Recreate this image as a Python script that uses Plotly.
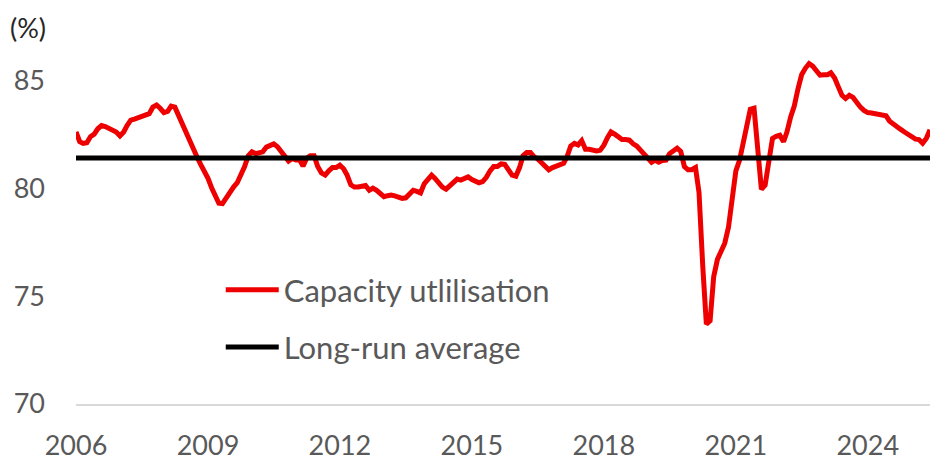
import pandas as pd
import plotly.graph_objects as go

start_month = "2006-01-01"
capacity_utilisation = [
    82.6, 82.15, 82.07, 82.1, 82.38, 82.5, 82.75, 82.9, 82.85, 82.76, 82.65, 82.6,
    82.42, 82.6, 82.9, 83.15, 83.2, 83.25, 83.3, 83.35, 83.45, 83.75, 83.85, 83.7,
    83.5, 83.55, 83.8, 83.75, 83.35, 83.05, 82.55, 82.2, 81.8, 81.45, 81.1, 80.8,
    80.45, 80.0, 79.6, 79.3, 79.28, 79.55, 79.85, 80.05, 80.25, 80.6, 81.0, 81.5,
    81.68, 81.6, 81.62, 81.68, 81.9, 82.0, 82.05, 81.92, 81.7, 81.4, 81.25, 81.37,
    81.3, 81.3, 81.02, 81.4, 81.5, 81.5, 81.0, 80.7, 80.6, 80.8, 80.95, 80.95,
    81.06, 80.9, 80.6, 80.15, 80.05, 80.05, 80.1, 80.12, 79.9, 80.0, 79.9, 79.75,
    79.6, 79.65, 79.68, 79.64, 79.6, 79.52, 79.55, 79.75, 79.9, 79.85, 79.78, 80.2,
    80.45, 80.6, 80.45, 80.2, 80.05, 79.95, 80.1, 80.3, 80.42, 80.37, 80.45, 80.52,
    80.4, 80.34, 80.25, 80.3, 80.5, 80.8, 81.0, 81.0, 81.12, 81.1, 80.8, 80.6,
    80.55, 80.95, 81.5, 81.65, 81.65, 81.45, 81.35, 81.2, 81.0, 80.85, 80.95, 81.0,
    81.1, 81.15, 81.45, 81.95, 82.07, 82.0, 82.2, 81.8, 81.8, 81.76, 81.72, 81.75,
    81.99, 82.35, 82.6, 82.5, 82.4, 82.25, 82.25, 82.22, 82.05, 81.95, 81.76, 81.6,
    81.4, 81.2, 81.3, 81.2, 81.28, 81.3, 81.6, 81.75, 81.85, 81.7, 81.0, 80.85,
    80.85, 80.95, 79.8, 76.4, 73.7, 73.85, 75.9, 76.7, 77.1, 77.45, 78.2, 79.6,
    80.8, 81.3, 82.0, 82.75, 83.65, 83.7, 82.0, 79.95, 80.14, 81.3, 82.3, 82.4,
    82.45, 82.15, 82.6, 83.3, 83.8, 84.6, 85.25, 85.55, 85.77, 85.65, 85.45, 85.23,
    85.25, 85.25, 85.34, 85.1, 84.7, 84.3, 84.15, 84.3, 84.2, 83.95, 83.75, 83.6,
    83.5, 83.48, 83.46, 83.42, 83.38, 83.35, 83.1, 82.95, 82.85, 82.72, 82.6, 82.5,
    82.38, 82.27, 82.25, 82.08, 82.3, 82.7,
]
long_run_average = 81.4
tick_years = ["2006", "2009", "2012", "2015", "2018", "2021", "2024"]
y_ticks = [70, 75, 80, 85]
series_names = ["Capacity utlilisation", "Long-run average"]

dates = pd.date_range(start_month, periods=len(capacity_utilisation), freq="MS")

FONT = "Lato, 'Source Sans Pro', 'Noto Sans', sans-serif"
GREY = "#595959"

fig = go.Figure()
fig.add_trace(go.Scatter(
    x=dates, y=capacity_utilisation, mode="lines", name=series_names[0],
    line=dict(color="#EE0000", width=5), legendgroup="a",
))
fig.add_trace(go.Scatter(
    x=[dates[0], dates[-1]], y=[long_run_average, long_run_average], mode="lines",
    name=series_names[1], line=dict(color="#000000", width=5), legendgroup="b",
))

fig.update_layout(
    width=930, height=459,
    margin=dict(l=76, r=0, t=37, b=55, autoexpand=False),
    paper_bgcolor="white", plot_bgcolor="white",
    font=dict(family=FONT, size=27, color=GREY),
    showlegend=True,
    legend=dict(
        x=0.1695, y=0.384, xanchor="left", yanchor="top",
        bgcolor="rgba(0,0,0,0)", font=dict(size=31, color=GREY),
        traceorder="grouped", tracegroupgap=14, itemwidth=53,
    ),
    xaxis=dict(
        range=[dates[0], dates[-1]],
        tickvals=[pd.Timestamp(f"{y}-01-01") for y in tick_years],
        ticktext=tick_years,
        showgrid=False, zeroline=False, automargin=False,
        showline=True, linecolor="#D9D9D9", linewidth=2,
        ticks="", ticklabelstandoff=17,
        tickfont=dict(size=27, color=GREY, family=FONT),
    ),
    yaxis=dict(
        range=[70, 87], tickvals=y_ticks, automargin=False,
        showgrid=False, zeroline=False, showline=False,
        ticks="", ticklabelstandoff=30,
        tickfont=dict(size=27, color=GREY, family=FONT),
    ),
    annotations=[dict(
        text="(%)", xref="paper", yref="paper", x=-0.0796, y=1.027,
        xanchor="left", yanchor="middle", showarrow=False,
        font=dict(size=27, color="#262626", family=FONT),
    )],
)

fig.write_html(
    "out.html",
    config={"displayModeBar": False},
    post_script="document.body.style.margin='0';document.body.style.padding='0';",
)
